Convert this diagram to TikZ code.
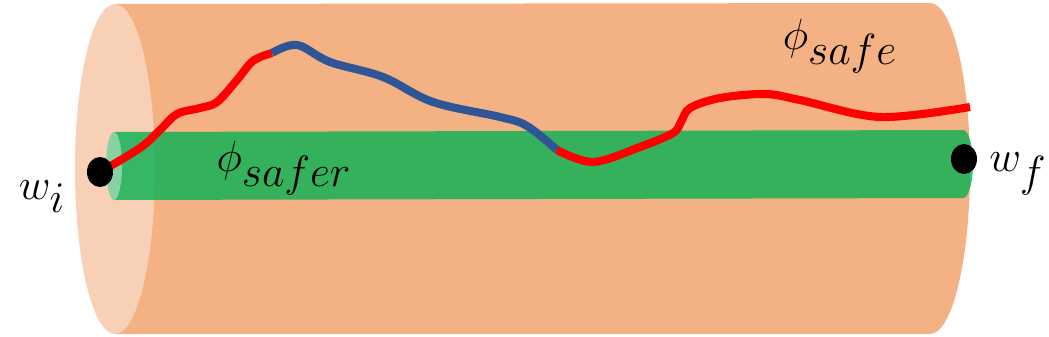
\documentclass[tikz,border=0pt]{standalone}
\usetikzlibrary{shapes.geometric}
\definecolor{tubeorange}{HTML}{F4B183}
\definecolor{caporange}{HTML}{F8D0B5}
\definecolor{tubegreen}{HTML}{00B050}
\definecolor{capgreen}{HTML}{88D1A2}
\definecolor{pathblue}{HTML}{2F5597}
\DeclareMathSizes{32}{32}{27}{20}
\DeclareMathSizes{28}{28}{24}{18}
\begin{document}
\begin{tikzpicture}[x=0.02cm,y=0.02cm,
  waydot/.style={ellipse,fill=black,inner sep=0pt,minimum width=0.52cm,minimum height=0.6cm},
  trail/.style={line width=4.6pt},
  biglabel/.style={font=\fontsize{32}{36}\selectfont,anchor=base},
  setlabel/.style={font=\fontsize{28}{32}\selectfont}]
\useasboundingbox (0,0) rectangle (1049,336);
% outer tube
\fill[tubeorange] (115,332) -- (930,333) arc[start angle=90,end angle=-90,x radius=40,y radius=165.5] -- (115,2) -- cycle;
\fill[caporange] (115,167) ellipse[x radius=40,y radius=165];
% inner tube
\fill[tubegreen,fill opacity=0.78] (114,204) -- (963,206) arc[start angle=90,end angle=-90,x radius=10,y radius=34] -- (114,136) -- cycle;
\fill[capgreen] (114,170) ellipse[x radius=8,y radius=34];
\coordinate (wi) at (100,164);
\coordinate (wf) at (964,177);
\coordinate (ta) at (272,283);
\coordinate (tb) at (557,186);
\coordinate (te) at (970,229);
% path
\draw[red,trail] plot[smooth,tension=0.6] coordinates {(wi) (140,188) (160,206) (177,222) (200,228) (217,234) (237,256) (253,275) (ta)};
\draw[pathblue,trail] plot[smooth,tension=0.6] coordinates {(ta) (297,291) (330,274) (383,259) (433,234) (500,219) (527,210) (tb)};
\draw[red,trail] plot[smooth,tension=0.55] coordinates {(tb) (593,174) (640,189) (673,203) (681,214) (690,228) (720,238) (765,242) (800,236) (880,219) (te)};
\node[waydot] (wistart) at (wi) {};
\node[waydot] (wfend) at (wf) {};
\node[biglabel] (wilabel) at (42,137) {$w_i$};
\node[biglabel] (wflabel) at (1018,165) {$w_f$};
\node[setlabel] (safer) at (284,168) {$\phi_{safer}$};
\node[setlabel] (safe) at (840,290) {$\phi_{safe}$};
\end{tikzpicture}
\end{document}
